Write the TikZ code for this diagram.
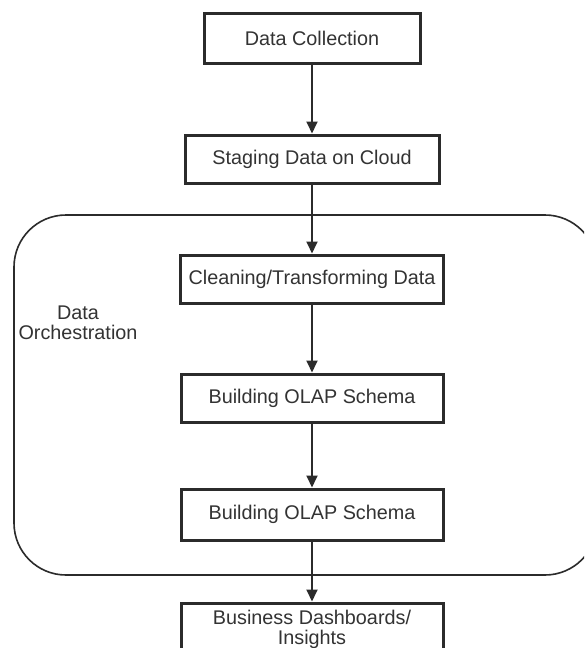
\documentclass[tikz,border=0pt]{standalone}
\usepackage{fontspec}
\setmainfont{Liberation Sans}
\usetikzlibrary{arrows.meta}
\definecolor{ink}{HTML}{2B2B2B}
\definecolor{txt}{HTML}{333333}
\tikzset{
  stepbox/.style={draw=ink, line width=3pt, fill=white, text=txt,
    inner sep=0pt, align=center,
    font=\fontsize{19.8}{20}\selectfont},
  flow/.style={draw=ink, line width=1.8pt,
    -{Triangle[length=12pt,width=11pt]}},
  group/.style={draw=ink, line width=1.6pt, rounded corners=52pt},
  grouplabel/.style={text=txt, align=center,
    font=\fontsize{19.8}{20}\selectfont}
}
\begin{document}
\begin{tikzpicture}[x=1pt,y=-1pt]
  \useasboundingbox (0,0) rectangle (584,648);
  \clip (0,0) rectangle (584,648);
  \fill[white] (0,0) rectangle (584,648);

  % orchestration container
  \draw[group] (14,215) rectangle (597,575);
  \node[grouplabel] (orch) at (78,323) {Data\\Orchestration};

  % pipeline steps
  \node[stepbox, minimum width=216pt, minimum height=50pt] (collect) at (312,38) {Data Collection};
  \node[stepbox, minimum width=254pt, minimum height=48pt] (stage) at (312,159) {Staging Data on Cloud};
  \node[stepbox, minimum width=263pt, minimum height=48pt] (clean) at (312,279) {Cleaning/Transforming Data};
  \node[stepbox, minimum width=262pt, minimum height=48pt] (olapa) at (312,398) {Building OLAP Schema};
  \node[stepbox, minimum width=262pt, minimum height=51pt] (olapb) at (312,514.5) {Building OLAP Schema};
  \node[stepbox, minimum width=262pt, minimum height=52pt] (dash) at (312,629) {Business Dashboards/\\Insights};

  % connectors
  \draw[flow] (collect.south) -- (stage.north);
  \draw[flow] (stage.south) -- (clean.north);
  \draw[flow] (clean.south) -- (olapa.north);
  \draw[flow] (olapa.south) -- (olapb.north);
  \draw[flow] (olapb.south) -- (dash.north);
\end{tikzpicture}
\end{document}
